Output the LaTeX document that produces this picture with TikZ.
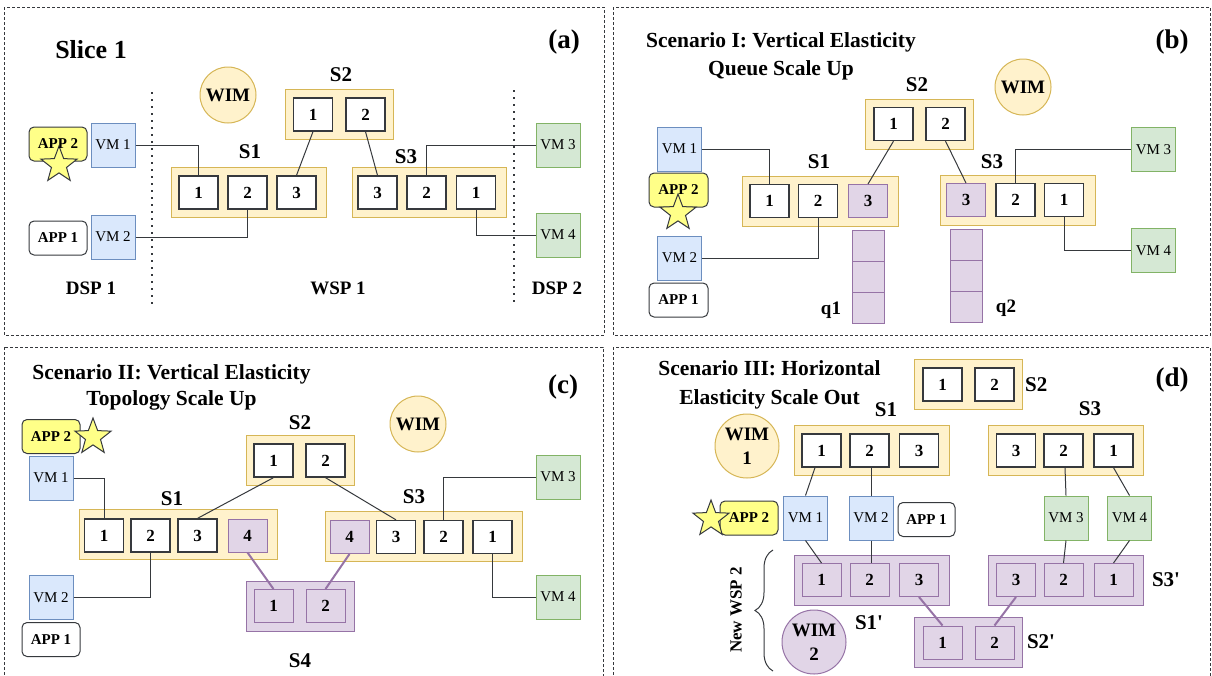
\documentclass[tikz,border=0pt]{standalone}
\usepackage{fontspec}
\setmainfont{Liberation Serif}
\usetikzlibrary{shapes.geometric,decorations.pathreplacing}
\newcommand\myfs[1]{\fontsize{#1}{#1}\selectfont}
\definecolor{yfill}{HTML}{FFF2CC}
\definecolor{ydraw}{HTML}{D6B656}
\definecolor{bfill}{HTML}{DAE8FC}
\definecolor{bdraw}{HTML}{6C8EBF}
\definecolor{gfill}{HTML}{D5E8D4}
\definecolor{gdraw}{HTML}{82B366}
\definecolor{pfill}{HTML}{E1D5E7}
\definecolor{pdraw}{HTML}{9673A6}
\definecolor{appy}{HTML}{FFFF88}
\definecolor{dk}{HTML}{36393D}
\begin{document}
\begin{tikzpicture}[x=1pt,y=-1pt,
 panel/.style={draw=dk, dash pattern=on 3pt off 2pt, line width=0.9pt},
 cont/.style={rectangle, fill=yfill, draw=ydraw, line width=1pt, inner sep=0},
 pcont/.style={rectangle, fill=pfill, draw=pdraw, line width=1pt, inner sep=0},
 cell/.style={rectangle, fill=white, draw=dk, line width=1.3pt, minimum width=39pt, minimum height=33pt, inner sep=0, font=\myfs{17}\bfseries},
 pcell/.style={cell, fill=pfill, draw=pdraw, line width=1pt},
 qcell/.style={rectangle, fill=pfill, draw=pdraw, line width=1pt, minimum width=32pt, minimum height=31.3pt, inner sep=0},
 vmb/.style={rectangle, fill=bfill, draw=bdraw, line width=1pt, minimum width=44pt, minimum height=44pt, inner sep=0, font=\myfs{15}},
 vmg/.style={vmb, fill=gfill, draw=gdraw},
 appbox/.style={rectangle, rounded corners=5pt, draw=dk, line width=1pt, minimum width=58pt, minimum height=34pt, inner sep=0},
 appy/.style={appbox, fill=appy},
 appw/.style={appbox, fill=white, font=\myfs{15}\bfseries},
 apptxt/.style={inner sep=0, font=\myfs{15}\bfseries},
 starn/.style={star, star points=5, star point ratio=2.4, minimum size=38pt, inner sep=0, fill=appy, draw=dk, line width=1pt},
 wim/.style={circle, fill=yfill, draw=ydraw, line width=1pt, minimum size=56pt, inner sep=0, font=\myfs{19}\bfseries, align=center},
 pwim/.style={wim, fill=pfill, draw=pdraw},
 lab/.style={inner sep=0, font=\myfs{21}\bfseries},
 mlab/.style={inner sep=0, font=\myfs{19}\bfseries},
 tag/.style={inner sep=0, font=\myfs{27}\bfseries},
 ttl/.style={inner sep=0, font=\fontsize{21.5}{28}\selectfont\bfseries, align=center},
 link/.style={draw=dk, line width=1pt},
 plink/.style={draw=pdraw, line width=2pt},
 dotline/.style={draw=dk, line width=2pt, dash pattern=on 1.6pt off 5.4pt}
]
\useasboundingbox (0,0) rectangle (1212,675);
\clip (0,0) rectangle (1212,675);

% ---------- panels ----------
\draw[panel] (4,7) rectangle (604,335);
\draw[panel] (613,7) rectangle (1210.5,335);
\draw[panel] (4,347) rectangle (603,700);
\draw[panel] (613,347) rectangle (1210.5,700);

% ================= (a) =================
\node[lab, font=\myfs{26}\bfseries] (aslice) at (91,50) {Slice 1};
\node[tag] (atag) at (564,42) {(a)};
\node[wim] (awim) at (228,95) {WIM};
\draw[dotline] (152,92) -- (152,307);
\draw[dotline] (514,90) -- (514,305);
\node[mlab] (adsp1) at (91,288) {DSP 1};
\node[mlab] (awsp1) at (338,288) {WSP 1};
\node[mlab] (adsp2) at (557,288) {DSP 2};

\node[cont, minimum width=155pt, minimum height=50pt] (aS1) at (248.5,192) {};
\node[lab] (aS1l) at (250,152) {S1};
\node[cell] (a11) at (198.5,192.5) {1};
\node[cell] (a12) at (247.5,192.5) {2};
\node[cell] (a13) at (296.5,192.5) {3};

\node[cont, minimum width=108pt, minimum height=50pt] (aS2) at (339,114) {};
\node[lab] (aS2l) at (341,75) {S2};
\node[cell] (a21) at (313,114.5) {1};
\node[cell] (a22) at (365.5,114.5) {2};

\node[cont, minimum width=154pt, minimum height=50pt] (aS3) at (429,192) {};
\node[lab] (aS3l) at (406,157) {S3};
\node[cell] (a33) at (377.5,192.5) {3};
\node[cell] (a32) at (426.5,192.5) {2};
\node[cell] (a31) at (476,192.5) {1};

\node[vmb] (aVM1) at (113,145) {VM 1};
\node[vmb] (aVM2) at (113,237) {VM 2};
\node[vmg] (aVM3) at (558,145) {VM 3};
\node[vmg] (aVM4) at (558,235) {VM 4};

\node[appy] (aAPP2box) at (58,144) {};
\node[starn] (astar) at (59,165) {};
\node[apptxt] (aAPP2) at (58,144) {APP 2};
\node[appw] (aAPP1) at (58,238) {APP 1};

\draw[link] (aVM1.east) -| (a11.north);
\draw[link] (aVM2.east) -| (a12.south);
\draw[link] (a13.north) -- (a21.south);
\draw[link] (a22.south) -- (a33.north);
\draw[link] (a32.north) |- (aVM3.west);
\draw[link] (a31.south) |- (aVM4.west);

% ================= (b) =================
\node[ttl] (bttl) at (781,56) {Scenario I: Vertical Elasticity\\Queue Scale Up};
\node[tag] (btag) at (1172,42) {(b)};
\node[wim] (bwim) at (1023,87) {WIM};

\node[cont, minimum width=156pt, minimum height=50pt] (bS1) at (820,201) {};
\node[lab] (bS1l) at (819,162) {S1};
\node[cell] (b11) at (769.5,201) {1};
\node[cell] (b12) at (818,201) {2};
\node[pcell] (b13) at (868,201) {3};

\node[cont, minimum width=108pt, minimum height=50pt] (bS2) at (919,124) {};
\node[lab] (bS2l) at (917,85) {S2};
\node[cell] (b21) at (893.5,124) {1};
\node[cell] (b22) at (945.5,124) {2};

\node[cont, minimum width=155pt, minimum height=50pt] (bS3) at (1017.5,200.5) {};
\node[lab] (bS3l) at (992,162) {S3};
\node[pcell] (b33) at (966,200) {3};
\node[cell] (b32) at (1015.5,200) {2};
\node[cell] (b31) at (1064,200) {1};

\node[qcell] (bq1a) at (868,245.7) {};
\node[qcell] (bq1b) at (868,277) {};
\node[qcell] (bq1c) at (868,308.3) {};
\node[mlab] (bq1l) at (831,310) {q1};
\node[qcell] (bq2a) at (966,244.7) {};
\node[qcell] (bq2b) at (966,276) {};
\node[qcell] (bq2c) at (966,307.3) {};
\node[mlab] (bq2l) at (1006,308) {q2};

\node[vmb] (bVM1) at (679.5,149) {VM 1};
\node[vmb] (bVM2) at (679.5,258) {VM 2};
\node[vmg] (bVM3) at (1153.5,149.5) {VM 3};
\node[vmg] (bVM4) at (1153.5,250.5) {VM 4};

\node[appy, minimum width=59pt] (bAPP2box) at (678.5,190) {};
\node[starn] (bstar) at (678,213) {};
\node[apptxt] (bAPP2) at (678.5,190) {APP 2};
\node[appw, minimum width=59pt] (bAPP1) at (678.5,300) {APP 1};

\draw[link] (bVM1.east) -| (b11.north);
\draw[link] (bVM2.east) -| (b12.south);
\draw[link] (b13.north) -- (b21.south);
\draw[link] (b22.south) -- (b33.north);
\draw[link] (b32.north) |- (bVM3.west);
\draw[link] (b31.south) |- (bVM4.west);

% ================= (c) =================
\node[ttl, font=\fontsize{21.5}{26}\selectfont\bfseries] (cttl) at (171.5,387) {Scenario II: Vertical Elasticity\\Topology Scale Up};
\node[tag] (ctag) at (563,387) {(c)};
\node[wim] (cwim) at (418,424) {WIM};

\node[cont, minimum width=198pt, minimum height=50pt] (cS1) at (178,534.5) {};
\node[lab] (cS1l) at (172,499) {S1};
\node[cell] (c11) at (104,535.5) {1};
\node[cell] (c12) at (150.5,535.5) {2};
\node[cell] (c13) at (197.5,535.5) {3};
\node[pcell] (c14) at (247.5,535.5) {4};

\node[cont, minimum width=108pt, minimum height=50pt] (cS2) at (300,460) {};
\node[lab] (cS2l) at (300,423) {S2};
\node[cell] (c21) at (273.5,460.5) {1};
\node[cell] (c22) at (325.5,460.5) {2};

\node[pcont, minimum width=108pt, minimum height=50pt] (cS4) at (300,606) {};
\node[lab] (cS4l) at (300,661) {S4};
\node[pcell] (c41) at (273.5,606) {1};
\node[pcell] (c42) at (325.5,606) {2};

\node[cont, minimum width=197pt, minimum height=50pt] (cS3) at (423.5,536) {};
\node[lab] (cS3l) at (414,497) {S3};
\node[pcell] (c34) at (349.5,537) {4};
\node[cell] (c33) at (396,537) {3};
\node[cell] (c32) at (443.5,537) {2};
\node[cell] (c31) at (492.5,537) {1};

\node[vmb] (cVM1) at (51,478) {VM 1};
\node[vmb] (cVM2) at (51,597.5) {VM 2};
\node[vmg] (cVM3) at (558,477) {VM 3};
\node[vmg] (cVM4) at (558,597) {VM 4};

\node[appy] (cAPP2box) at (51,436.5) {};
\node[starn] (cstar) at (93,437) {};
\node[apptxt] (cAPP2) at (51,436.5) {APP 2};
\node[appw] (cAPP1) at (51,639.5) {APP 1};

\draw[link] (cVM1.east) -| (c11.north);
\draw[link] (cVM2.east) -| (c12.south);
\draw[link] (c13.north) -- (c21.south);
\draw[link] (c22.south) -- (c33.north);
\draw[link] (c32.north) |- (cVM3.west);
\draw[link] (c31.south) |- (cVM4.west);
\draw[plink] (c14.south) -- (c41.north);
\draw[plink] (c34.south) -- (c42.north);

% ================= (d) =================
\node[ttl, font=\fontsize{21.5}{29}\selectfont\bfseries] (dttl) at (769.5,384.5) {Scenario III: Horizontal\\Elasticity Scale Out};
\node[tag] (dtag) at (1172,380) {(d)};

\node[cont, minimum width=108pt, minimum height=50pt] (dS2) at (968,384.5) {};
\node[lab, anchor=west] (dS2l) at (1025,385) {S2};
\node[cell] (d21) at (942.5,384.5) {1};
\node[cell] (d22) at (994.5,384.5) {2};

\node[cont, minimum width=155pt, minimum height=50pt] (dS1) at (871.5,450) {};
\node[lab] (dS1l) at (886,410) {S1};
\node[cell] (d11) at (821.5,450.5) {1};
\node[cell] (d12) at (869.5,450.5) {2};
\node[cell] (d13) at (919,450.5) {3};

\node[cont, minimum width=155pt, minimum height=50pt] (dS3) at (1065.5,450) {};
\node[lab] (dS3l) at (1090,409) {S3};
\node[cell] (d33) at (1016,450.5) {3};
\node[cell] (d32) at (1063.5,450.5) {2};
\node[cell] (d31) at (1113.5,450.5) {1};

\node[pcont, minimum width=155pt, minimum height=50pt] (dS1p) at (871.5,580) {};
\node[lab] (dS1pl) at (869,623) {S1\textquotesingle};
\node[pcell] (e11) at (821.5,580) {1};
\node[pcell] (e12) at (869.5,580) {2};
\node[pcell] (e13) at (919,580) {3};

\node[pcont, minimum width=155pt, minimum height=50pt] (dS3p) at (1065.5,580) {};
\node[lab] (dS3pl) at (1166,580) {S3\textquotesingle};
\node[pcell] (e33) at (1016,580) {3};
\node[pcell] (e32) at (1063.5,580) {2};
\node[pcell] (e31) at (1113.5,580) {1};

\node[pcont, minimum width=108pt, minimum height=50pt] (dS2p) at (968,642.5) {};
\node[lab] (dS2pl) at (1041,642) {S2\textquotesingle};
\node[pcell] (e21) at (942.5,642.5) {1};
\node[pcell] (e22) at (994.5,642.5) {2};

\node[vmb] (dVM1) at (805.5,518) {VM 1};
\node[vmb] (dVM2) at (871,518) {VM 2};
\node[vmg] (dVM3) at (1066,518) {VM 3};
\node[vmg] (dVM4) at (1129.5,518) {VM 4};

\node[appy] (dAPP2box) at (749,518) {};
\node[starn] (dstar) at (711,519) {};
\node[apptxt] (dAPP2) at (749,518) {APP 2};
\node[appw, minimum width=57pt] (dAPP1) at (926.5,519.5) {APP 1};

\node[wim, minimum size=64pt, font=\fontsize{19}{24}\selectfont\bfseries] (dwim1) at (747,446) {WIM\\1};
\node[pwim, minimum size=64pt, font=\fontsize{19}{24}\selectfont\bfseries] (dwim2) at (814,642) {WIM\\2};

\coordinate (dbrT) at (773,550);
\coordinate (dbrB) at (773,671);
\draw[dk, line width=1pt, decorate, decoration={brace, amplitude=18pt}] (dbrB) -- (dbrT);
\node[inner sep=0, font=\myfs{17}\bfseries, rotate=90] (dwsp2) at (736,610) {New WSP 2};

\draw[link] ([xshift=-6.5pt]d11.south) -- (dVM1.north);
\draw[link] ([xshift=1.5pt]d12.south) -- (dVM2.north);
\draw[link] (dVM1.south) -- (e11.north);
\draw[link] (dVM2.south) -- ([xshift=1.5pt]e12.north);
\draw[link] ([xshift=1.5pt]d32.south) -- (dVM3.north);
\draw[link] (d31.south) -- (dVM4.north);
\draw[link] (dVM3.south) -- (e32.north);
\draw[link] (dVM4.south) -- (e31.north);
\draw[plink] (e13.south) -- (e21.north);
\draw[plink] (e33.south) -- (e22.north);
\end{tikzpicture}
\end{document}
